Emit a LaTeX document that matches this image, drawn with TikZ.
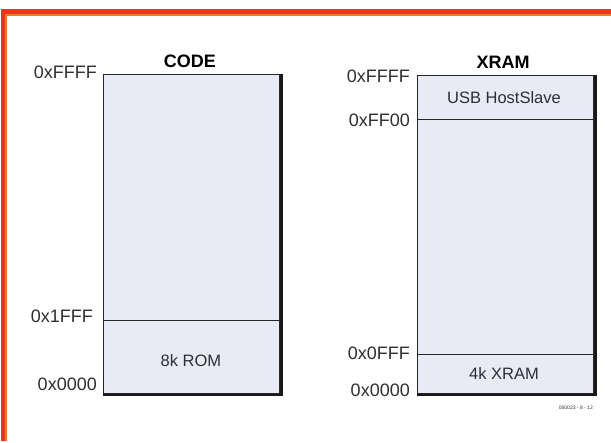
\documentclass[tikz,border=0pt]{standalone}
\usepackage{fontspec}
\setmainfont{Liberation Sans}
\definecolor{fillc}{HTML}{E8EBF6}
\definecolor{framec}{HTML}{E5371E}
\definecolor{framei}{HTML}{F07A2A}
\definecolor{txt}{HTML}{2E2E33}
\begin{document}
\begin{tikzpicture}[x=1pt,y=-1pt,
  region/.style={draw=black!85, line width=1.2pt, fill=fillc, anchor=north west, inner sep=0pt, minimum width=176pt},
  addr/.style={anchor=east, inner sep=0pt, font=\fontsize{18}{20}\selectfont, text=txt},
  title/.style={inner sep=0pt, font=\fontsize{18}{20}\selectfont\bfseries, text=black},
  lbl/.style={inner sep=0pt, font=\fontsize{16.5}{18}\selectfont, text=txt},
  shadow/.style={draw=black!90, line width=2.6pt}]
\useasboundingbox (0,0) rectangle (611,443);
% frame
\draw[framec, line width=5pt] (3,441) -- (3,12) -- (611,12);
\draw[framei, line width=1.2pt] (6,441) -- (6,15) -- (611,15);
% CODE
\node[region, minimum height=246pt] (codehi) at (103,74) {};
\node[region, minimum height=73pt] (rom) at (103,320) {};
\draw[shadow] ([xshift=1pt]codehi.north east) -- ([xshift=1pt,yshift=-1pt]rom.south east) -- ([yshift=-1pt]rom.south west);
\node[title] (codet) at (190,61) {CODE};
\node[lbl] (romt) at (191,361) {8k ROM};
\node[addr] (c1) at (97,72) {0xFFFF};
\node[addr] (c2) at (93,316) {0x1FFF};
\node[addr] (c3) at (97,384) {0x0000};
% XRAM
\node[region, minimum height=44pt] (usb) at (417,75) {};
\node[region, minimum height=235pt] (xmid) at (417,119) {};
\node[region, minimum height=39pt] (xram) at (417,354) {};
\draw[shadow] ([xshift=1pt]usb.north east) -- ([xshift=1pt,yshift=-1pt]xram.south east) -- ([yshift=-1pt]xram.south west);
\node[title] (xramt) at (503,62) {XRAM};
\node[lbl] (usbt) at (504,98) {USB HostSlave};
\node[lbl] (xramlbl) at (504,374) {4k XRAM};
\node[addr] (x1) at (410,76) {0xFFFF};
\node[addr] (x2) at (410,120) {0xFF00};
\node[addr] (x3) at (410,353) {0x0FFF};
\node[addr] (x4) at (410,390) {0x0000};
\node[inner sep=0pt, anchor=east, font=\fontsize{5}{6}\selectfont, text=txt] (ref) at (593,408) {050023 - 8 - 12};
\end{tikzpicture}
\end{document}
